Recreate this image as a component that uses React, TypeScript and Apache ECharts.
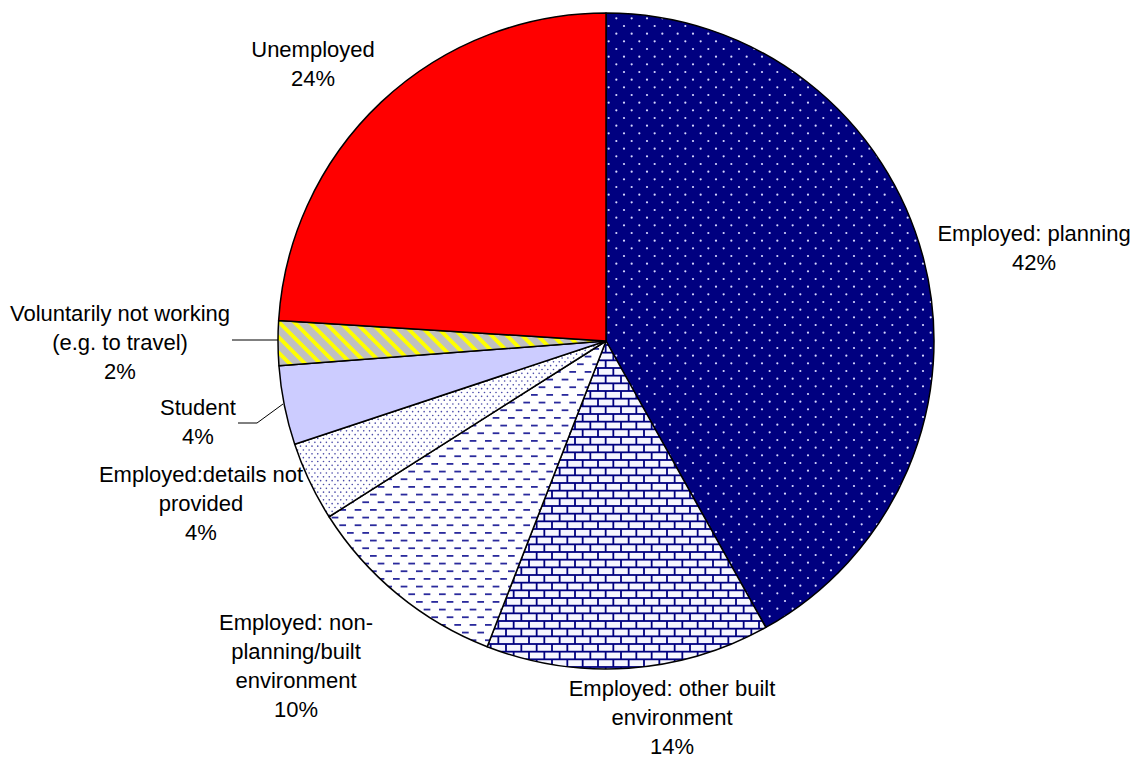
import React, { useEffect, useRef } from 'react';
import * as echarts from 'echarts';

// ---- data ----
const categories = [
  'Employed: planning',
  'Employed: other built environment',
  'Employed: non-planning/built environment',
  'Employed:details not provided',
  'Student',
  'Voluntarily not working (e.g. to travel)',
  'Unemployed',
];
const labelTexts = [
  'Employed: planning',
  'Employed: other built\nenvironment',
  'Employed: non-\nplanning/built\nenvironment',
  'Employed:details not\nprovided',
  'Student',
  'Voluntarily not working\n(e.g. to travel)',
  'Unemployed',
];
const shares = [41.9, 14.0, 10.1, 3.9, 3.9, 2.2, 24.0];

// ---- label placement (centres of label blocks) ----
const labelPos: number[][] = [
  [1034, 248],
  [672, 717],
  [296, 666],
  [201, 503],
  [198, 422],
  [120, 342],
  [313, 64],
];
const leaderLines: (number[][] | null)[] = [
  null,
  null,
  null,
  null,
  [[283, 404], [257, 423], [238, 423]],
  [[280, 340], [256, 340], [232, 340]],
  null,
];

const TILE = 46;
const P = TILE / 3; // pattern period
const H = TILE / 6; // row height

function makeTile(draw: (ctx: CanvasRenderingContext2D) => void) {
  const c = document.createElement('canvas');
  c.width = TILE;
  c.height = TILE;
  const ctx = c.getContext('2d')!;
  draw(ctx);
  return { image: c.toDataURL(), repeat: 'repeat', imageWidth: TILE, imageHeight: TILE } as any;
}

function buildFills() {
  const navyDots = makeTile((ctx) => {
    ctx.fillStyle = '#000080';
    ctx.fillRect(0, 0, TILE, TILE);
    ctx.fillStyle = '#d8d8ff';
    for (let j = 0; j < 6; j++) {
      for (let i = 0; i < 3; i++) {
        const x = i * P + (j % 2) * (P / 2) + 3;
        const y = j * H + 3;
        ctx.beginPath();
        ctx.arc(x, y, 1.1, 0, Math.PI * 2);
        ctx.fill();
      }
    }
  });
  const bricks = makeTile((ctx) => {
    ctx.fillStyle = '#000080';
    ctx.fillRect(0, 0, TILE, TILE);
    ctx.fillStyle = '#f6f6ff';
    for (let j = 0; j < 6; j++) {
      for (let i = -1; i < 4; i++) {
        const x = i * P + (j % 2) * (P / 2);
        const y = j * H;
        ctx.fillRect(x + 0.9, y + 0.9, P - 1.8, H - 1.8);
      }
    }
  });
  const dashes = makeTile((ctx) => {
    ctx.fillStyle = '#ffffff';
    ctx.fillRect(0, 0, TILE, TILE);
    ctx.fillStyle = '#2a2a9c';
    for (let j = 0; j < 6; j++) {
      for (let i = -1; i < 4; i++) {
        const x = i * P + (j % 2) * (P / 2) + 2;
        const y = j * H + 3;
        ctx.fillRect(x, y, 6.7, 1.8);
      }
    }
  });
  const smallDots = makeTile((ctx) => {
    ctx.fillStyle = '#ffffff';
    ctx.fillRect(0, 0, TILE, TILE);
    ctx.fillStyle = '#4a4aa8';
    const px = TILE / 8;
    const py = TILE / 12;
    for (let j = 0; j < 12; j++) {
      for (let i = 0; i < 8; i++) {
        const x = i * px + (j % 2) * (px / 2) + 1.5;
        const y = j * py + 1.5;
        ctx.beginPath();
        ctx.arc(x, y, 0.8, 0, Math.PI * 2);
        ctx.fill();
      }
    }
  });
  const stripes = makeTile((ctx) => {
    ctx.fillStyle = '#c0c0c0';
    ctx.fillRect(0, 0, TILE, TILE);
    ctx.fillStyle = '#ffff00';
    const w = 5.5;
    for (let k = -6; k < 6; k++) {
      const a = k * P;
      ctx.beginPath();
      ctx.moveTo(a, 0);
      ctx.lineTo(a + w, 0);
      ctx.lineTo(a + w + TILE, TILE);
      ctx.lineTo(a + TILE, TILE);
      ctx.closePath();
      ctx.fill();
    }
  });
  return [navyDots, bricks, dashes, smallDots, '#ccccff', stripes, '#ff0000'];
}

export default function App() {
  const ref = useRef<HTMLDivElement>(null);
  useEffect(() => {
    if (!ref.current) return;
    const chart = echarts.init(ref.current, null, { renderer: 'svg' });
    const fills = buildFills();
    const data = categories.map((name, i) => ({
      name,
      value: shares[i],
      itemStyle: { color: fills[i] },
      labelLine: { show: leaderLines[i] != null },
    }));
    chart.setOption({
      animation: false,
      backgroundColor: '#ffffff',
      series: [
        {
          type: 'pie',
          center: [606, 341],
          radius: 328,
          startAngle: 90,
          clockwise: true,
          avoidLabelOverlap: false,
          silent: true,
          itemStyle: { borderColor: '#000000', borderWidth: 1.5 },
          label: {
            show: true,
            position: 'outside',
            color: '#000000',
            fontSize: 22,
            fontFamily: '"Liberation Sans", Arial, sans-serif',
            lineHeight: 29,
            align: 'center',
            width: 340,
            overflow: 'none',
            formatter: (p: any) => `${labelTexts[p.dataIndex]}\n${Math.round(p.percent)}%`,
          },
          labelLine: { show: false, lineStyle: { color: '#000000', width: 1 } },
          labelLayout: (p: any) => {
            const i = p.dataIndex;
            const res: any = { x: labelPos[i][0], y: labelPos[i][1], align: 'center', verticalAlign: 'middle' };
            if (leaderLines[i]) res.labelLinePoints = leaderLines[i];
            return res;
          },
          data,
        },
      ],
    });
    return () => chart.dispose();
  }, []);
  return (
    <div
      ref={ref}
      style={{ position: 'fixed', left: 0, top: 0, width: 1140, height: 760 }}
    />
  );
}
